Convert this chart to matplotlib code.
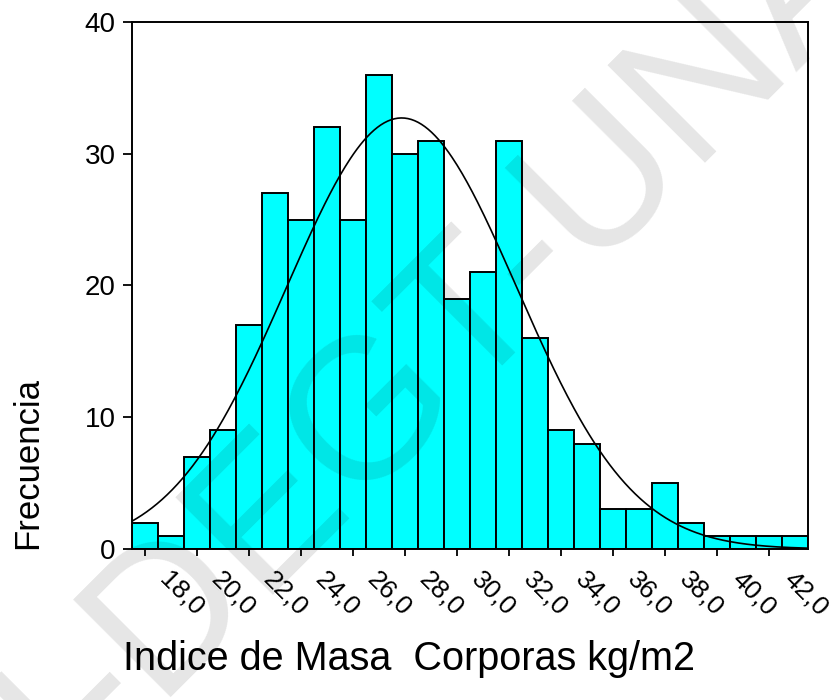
import numpy as np
import matplotlib
matplotlib.use("Agg")
import matplotlib.pyplot as plt
import matplotlib.transforms as mtransforms

# Índice de masa corporal: centro de cada intervalo (ancho 1) y frecuencia
imc_centros = [18, 19, 20, 21, 22, 23, 24, 25, 26, 27, 28, 29, 30,
               31, 32, 33, 34, 35, 36, 37, 38, 39, 40, 41, 42, 43]
frecuencias = [2, 1, 7, 9, 17, 27, 25, 32, 25, 36, 30, 31, 19,
               21, 31, 16, 9, 8, 3, 3, 5, 2, 1, 1, 1, 1]
marcas_x = [18, 20, 22, 24, 26, 28, 30, 32, 34, 36, 38, 40, 42]
etiquetas_x = ["18,0", "20,0", "22,0", "24,0", "26,0", "28,0", "30,0",
               "32,0", "34,0", "36,0", "38,0", "40,0", "42,0"]
marcas_y = [0, 10, 20, 30, 40]

plt.rcParams['font.family'] = ['Liberation Sans', 'DejaVu Sans']

fig = plt.figure(figsize=(8.33, 7), dpi=100)
ax = fig.add_axes([0.158, 0.2157, 0.812, 0.753])

ax.bar(imc_centros, frecuencias, width=1.0, color='#00FFFF',
       edgecolor='black', linewidth=1.4, zorder=2)

# curva normal ajustada a los datos
x = np.array(imc_centros, dtype=float)
n = np.array(frecuencias, dtype=float)
N = n.sum()
media = (x * n).sum() / N
sd = np.sqrt(((x - media) ** 2 * n).sum() / (N - 1))
xs = np.linspace(17.5, 43.5, 400)
ys = N * 1.0 / (sd * np.sqrt(2 * np.pi)) * np.exp(-0.5 * ((xs - media) / sd) ** 2)
ax.plot(xs, ys, color='black', linewidth=1.2, zorder=3)

ax.set_xlim(17.5, 43.5)
ax.set_ylim(0, 40)
ax.set_yticks(marcas_y)
ax.set_xticks(marcas_x)
ax.set_xticklabels(etiquetas_x, rotation=-45, ha='left', va='top')
for s in ax.spines.values():
    s.set_linewidth(1.4)
ax.tick_params(axis='y', direction='out', length=6.5, width=1.3,
               labelsize=20, pad=5)
ax.tick_params(axis='x', direction='out', length=5, width=1.3,
               labelsize=19, pad=8)
desplaza = mtransforms.ScaledTranslation(10 / 100, 0, fig.dpi_scale_trans)
for lab in ax.get_xticklabels():
    lab.set_transform(lab.get_transform() + desplaza)

fig.text(27.5 / 833, 1 - 463 / 700, "Frecuencia", rotation=90,
         ha='center', va='center', fontsize=25)
fig.text(123 / 833, 1 - 670 / 700, "Indice de Masa  Corporas kg/m2",
         ha='left', va='baseline', fontsize=28.5)

# marca de agua
fig.text(390 / 833, 1 - 390 / 700, "UNI-DEGT-UNAN", rotation=45,
         ha='center', va='center', fontsize=144, color='black',
         alpha=0.1, zorder=10)

fig.savefig("out.png", dpi=100)
plt.close(fig)
